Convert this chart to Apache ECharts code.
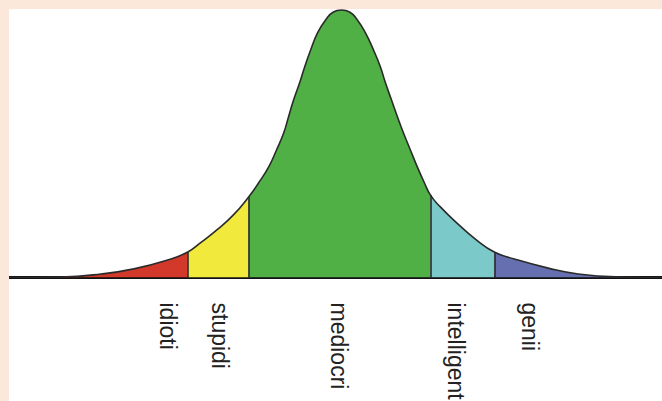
<!DOCTYPE html>
<html>
<head>
<meta charset="utf-8">
<script src="https://cdn.jsdelivr.net/npm/echarts@6/dist/echarts.min.js"></script>
<style>
  html, body { margin: 0; padding: 0; background: #fce8da; width: 662px; height: 401px; overflow: hidden; }
  #chart { position: absolute; left: 9px; top: 9px; width: 653px; height: 392px; background: #ffffff; }
</style>
</head>
<body>
<div id="chart"></div>
<script>
// Curve readings (x in score units, y in % of peak height)
const curveX = [-11, 6.3, 19.7, 30.7, 42, 48.7, 53, 58.7, 64, 69, 72.3, 75.7, 78.3, 80.7, 82.3, 84, 86, 87.7, 89.7, 92, 94.7, 97.3, 100,
                102.7, 105.3, 108, 110.7, 113, 114.7, 116.7, 118.7, 120.7, 123, 125.3, 127.7, 129.7, 133, 139, 144.7, 151, 157.7, 169, 179, 193, 207];
const curveY = [0, 0.2, 1.3, 3.2, 6.5, 9.5, 13.0, 18.0, 23.4, 30.0, 35.2, 41.2, 47.5, 53.8, 59.8, 66.1, 72.4, 78.4, 84.7, 91.1, 95.9, 98.9, 99.6,
                98.9, 95.9, 91.1, 84.7, 78.4, 72.4, 66.1, 59.8, 53.8, 47.5, 41.2, 35.2, 30.7, 26.3, 19.8, 14.3, 9.5, 6.9, 3.5, 1.3, 0.2, 0];
const categories = ['idioti', 'stupidi', 'mediocri', 'intelligenti', 'genii'];
const labelX = [42, 59.3, 99.3, 138.3, 163];
const boundaryX = [48.7, 69, 129.7, 151];

const regionColors = ['#d2392a', '#f1ea3c', '#50b046', '#7cc9c9', '#6670b0'];

const points = curveX.map((x, i) => [x, curveY[i]]);
const edges = [curveX[0]].concat(boundaryX, [curveX[curveX.length - 1]]);

const SMOOTH = 0.5;

const regionSeries = categories.map((name, i) => ({
  name: name,
  type: 'line',
  data: points.filter(p => p[0] >= edges[i] && p[0] <= edges[i + 1]),
  smooth: SMOOTH,
  symbol: 'none',
  lineStyle: { width: 0 },
  areaStyle: { color: regionColors[i], opacity: 1 },
  z: 2,
  silent: true
}));

const sepLines = boundaryX.map(b => {
  const h = curveY[curveX.indexOf(b)];
  return [{ coord: [b, 0] }, { coord: [b, h] }];
});

const option = {
  backgroundColor: '#ffffff',
  animation: false,
  grid: { left: 0, right: 0, top: 0, bottom: 123.5, containLabel: false, outerBoundsMode: 'none' },
  xAxis: {
    type: 'value',
    min: -11,
    max: 207,
    splitLine: { show: false },
    axisTick: { show: false },
    axisLine: { show: true, onZero: false, lineStyle: { color: '#111', width: 3 } },
    axisLabel: {
      show: true,
      customValues: labelX,
      rotate: -90,
      margin: 25,
      fontFamily: 'Liberation Sans, Arial, sans-serif',
      fontSize: 23,
      color: '#222',
      hideOverlap: false,
      formatter: v => {
        const i = labelX.indexOf(v);
        return i >= 0 ? categories[i] : '';
      }
    }
  },
  yAxis: {
    type: 'value',
    min: 0,
    max: 100,
    show: false,
    splitLine: { show: false }
  },
  series: regionSeries.concat([
    {
      name: 'outline',
      type: 'line',
      data: points,
      smooth: SMOOTH,
      symbol: 'none',
      lineStyle: { color: '#2a2a2a', width: 1.6 },
      z: 4,
      silent: true,
      markLine: {
        silent: true,
        symbol: 'none',
        label: { show: false },
        lineStyle: { color: '#2a2a2a', width: 1.6, type: 'solid' },
        data: sepLines
      }
    }
  ])
};

const chart = echarts.init(document.getElementById('chart'), null, { renderer: 'svg' });
chart.setOption(option);
</script>
</body>
</html>
